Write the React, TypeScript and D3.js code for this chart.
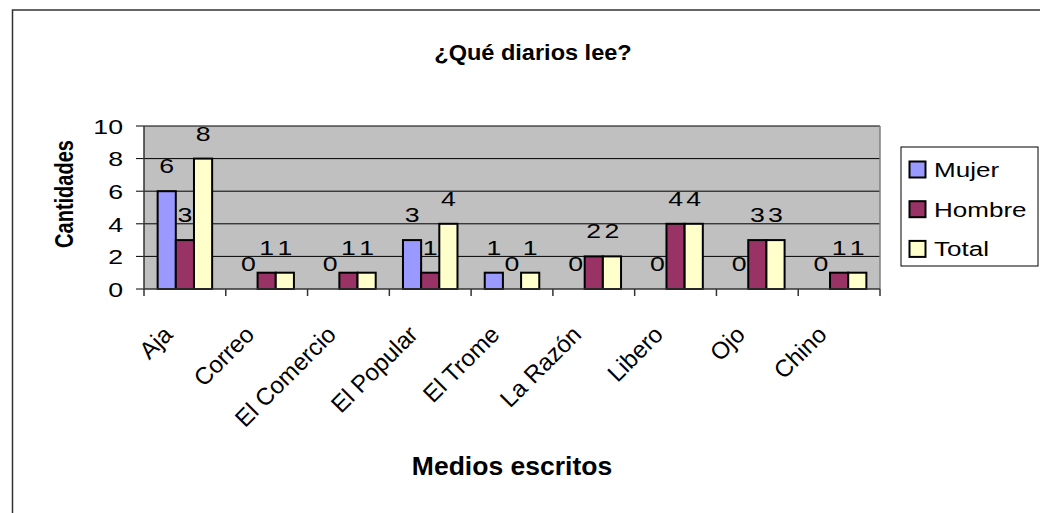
import React from "react";
import * as d3 from "d3";

const categories = ["Aja", "Correo", "El Comercio", "El Popular", "El Trome", "La Razón", "Libero", "Ojo", "Chino"];
const mujer = [6, 0, 0, 3, 1, 0, 0, 0, 0];
const hombre = [3, 1, 1, 1, 0, 2, 4, 3, 1];
const total = [8, 1, 1, 4, 1, 2, 4, 3, 1];
const seriesNames = ["Mujer", "Hombre", "Total"];
const seriesColors = ["#9999FF", "#993366", "#FFFFCC"];
const yTicks = [0, 2, 4, 6, 8, 10];

const font = "'Liberation Sans', Arial, sans-serif";
// the original picture is stretched sideways a bit
const SX = 1.27;

const App = () => {
  const series = [mujer, hombre, total];
  const plot = { left: 144, right: 880, top: 126, bottom: 289 };

  const x = d3.scaleBand().domain(categories).range([plot.left, plot.right]);
  // gap width 50% -> group takes 3 / 4.5 of the band
  const inner = d3
    .scaleBand()
    .domain(seriesNames)
    .range([0, x.bandwidth()])
    .paddingInner(0)
    .paddingOuter(0.75);
  const y = d3.scaleLinear().domain([0, 10]).range([plot.bottom, plot.top]);

  return (
    <svg
      width={1040}
      height={513}
      style={{ position: "absolute", left: 0, top: 0, background: "#fff" }}
      fontFamily={font}
    >
      <rect x={12.5} y={10} width={1100} height={600} fill="#fff" stroke="#333" strokeWidth={1.5} />

      <text transform="translate(533,60) scale(1.07,1)" textAnchor="middle" fontSize={22} fontWeight="bold">
        ¿Qué diarios lee?
      </text>

      {/* plot area */}
      <rect x={plot.left} y={plot.top} width={plot.right - plot.left} height={plot.bottom - plot.top} fill="#C0C0C0" />
      {yTicks.map((t) => (
        <g key={t}>
          {t > 0 && <line x1={plot.left} x2={plot.right} y1={y(t)} y2={y(t)} stroke="#000" strokeWidth={1} />}
          <line x1={plot.left - 8} x2={plot.left} y1={y(t)} y2={y(t)} stroke="#000" strokeWidth={1} />
          <text transform={`translate(${plot.left - 21},${y(t) + 7.7}) scale(${SX},1)`} textAnchor="end" fontSize={21}>
            {t}
          </text>
        </g>
      ))}
      <line x1={plot.right} x2={plot.right} y1={plot.top} y2={plot.bottom} stroke="#808080" strokeWidth={1.5} />

      {/* bars */}
      {categories.map((c, i) => (
        <g key={c}>
          {series.map((s, j) => {
            const bx = (x(c) as number) + (inner(seriesNames[j]) as number);
            const bw = inner.bandwidth();
            const v = s[i];
            return (
              <g key={j}>
                {v > 0 && (
                  <rect
                    x={bx}
                    y={y(v)}
                    width={bw}
                    height={y(0) - y(v)}
                    fill={seriesColors[j]}
                    stroke="#000"
                    strokeWidth={2}
                  />
                )}
                <text
                  transform={`translate(${bx + bw / 2},${y(v) - 18}) scale(${SX},1)`}
                  textAnchor="middle"
                  fontSize={21}
                >
                  {v}
                </text>
              </g>
            );
          })}
        </g>
      ))}

      {/* axes */}
      <line x1={plot.left} x2={plot.right} y1={plot.bottom} y2={plot.bottom} stroke="#333" strokeWidth={1.5} />
      <line x1={plot.left} x2={plot.left} y1={plot.top} y2={plot.bottom} stroke="#333" strokeWidth={1.5} />
      {d3.range(categories.length + 1).map((k) => {
        const tx = plot.left + k * x.step();
        return <line key={k} x1={tx} x2={tx} y1={plot.bottom} y2={plot.bottom + 7} stroke="#333" strokeWidth={1.5} />;
      })}
      {categories.map((c) => {
        const cx = (x(c) as number) + x.bandwidth() / 2;
        return (
          <text
            key={c}
            transform={`translate(${cx - 11},${plot.bottom + 47}) rotate(-45)`}
            textAnchor="end"
            fontSize={24}
          >
            {c}
          </text>
        );
      })}

      <text x={512} y={475} textAnchor="middle" fontSize={26.5} fontWeight="bold">
        Medios escritos
      </text>
      <text transform={`translate(73,194) rotate(-90) scale(1,${SX})`} textAnchor="middle" fontSize={20} fontWeight="bold">
        Cantidades
      </text>

      {/* legend */}
      <rect x={901} y={147} width={137} height={119} fill="#fff" stroke="#000" strokeWidth={1} />
      {seriesNames.map((n, j) => (
        <g key={n} transform={`translate(909,${169 + j * 39.7})`}>
          <rect x={0.5} y={-7.5} width={16} height={16} fill={seriesColors[j]} stroke="#000" strokeWidth={2} />
          <text transform={`translate(25,8) scale(1.24,1)`} fontSize={21}>
            {n}
          </text>
        </g>
      ))}
    </svg>
  );
};

export default App;
